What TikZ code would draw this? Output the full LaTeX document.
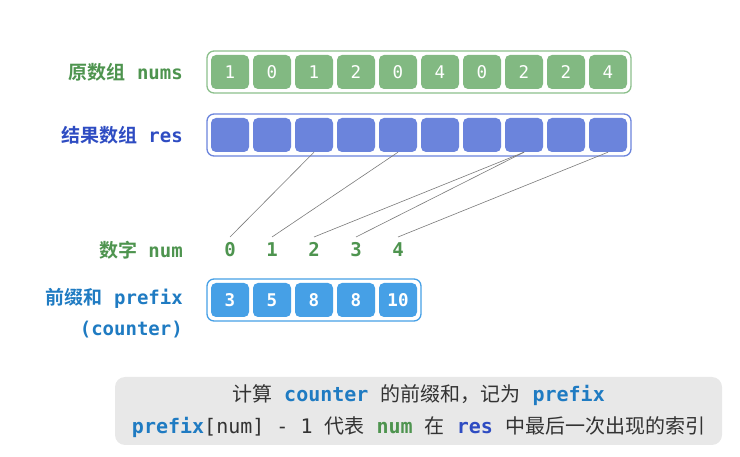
\documentclass[tikz,border=0pt]{standalone}
\usepackage{fontspec}
\setmainfont{DejaVu Sans}
\setmonofont{DejaVu Sans Mono}
\newfontfamily\cjk{Noto Sans CJK SC}[BoldFont={Noto Sans CJK SC Bold}]
\newcommand\zh[1]{{\cjk #1}}
\definecolor{numfill}{HTML}{82B982}
\definecolor{numline}{HTML}{8CC08C}
\definecolor{numtext}{HTML}{4E944F}
\definecolor{resfill}{HTML}{6B84DC}
\definecolor{restext}{HTML}{2E4CC2}
\definecolor{prefill}{HTML}{46A0E6}
\definecolor{pretext}{HTML}{1F7BC2}
\definecolor{notefill}{HTML}{E8E8E8}
\definecolor{notetext}{HTML}{333333}
\definecolor{linkgray}{HTML}{7A7A7A}
\begin{document}
\begin{tikzpicture}[x=1pt,y=-1pt,
    cell/.style={rounded corners=5pt,minimum width=38pt,minimum height=34pt,inner sep=0pt,text=white,
      text height=12.5pt,text depth=0pt,font=\ttfamily\fontsize{17.5}{17.5}\selectfont},
    numcell/.style={cell,fill=numfill},
    rescell/.style={cell,fill=resfill},
    precell/.style={cell,fill=prefill,font=\ttfamily\bfseries\fontsize{17.5}{17.5}\selectfont},
    rowbox/.style={rounded corners=7pt,line width=1.3pt,fill=white},
    rowlabel/.style={anchor=east,inner sep=0pt,font=\ttfamily\bfseries\fontsize{19}{31}\selectfont},
    digit/.style={text=numtext,text height=14pt,text depth=0pt,inner sep=0pt,outer sep=6pt,
      font=\ttfamily\bfseries\fontsize{19}{19}\selectfont},
    link/.style={draw=linkgray,line width=0.6pt}]
  \useasboundingbox (0,0) rectangle (740,457);
  % row boxes
  \draw[rowbox,draw=numline] (207,51) rectangle (631,93);
  \draw[rowbox,draw=resfill] (207,114) rectangle (631,156);
  \draw[rowbox,draw=prefill] (207,279) rectangle (421,321);
  % labels
  \node[rowlabel,text=numtext] (numslabel) at (183,72) {\zh{原数组} nums};
  \node[rowlabel,text=restext] (reslabel) at (183,135) {\zh{结果数组} res};
  \node[rowlabel,text=numtext] (numlabel) at (183,250) {\zh{数字} num};
  \node[rowlabel,text=pretext,align=right] (prelabel) at (183,313) {\zh{前缀和} prefix\\(counter)};
  % nums
  \draw
    (230,72) node[numcell] (n0){1}
    (272,72) node[numcell] (n1){0}
    (314,72) node[numcell] (n2){1}
    (356,72) node[numcell] (n3){2}
    (398,72) node[numcell] (n4){0}
    (440,72) node[numcell] (n5){4}
    (482,72) node[numcell] (n6){0}
    (524,72) node[numcell] (n7){2}
    (566,72) node[numcell] (n8){2}
    (608,72) node[numcell] (n9){4};
  % res
  \draw
    (230,135) node[rescell] (r0){}
    (272,135) node[rescell] (r1){}
    (314,135) node[rescell] (r2){}
    (356,135) node[rescell] (r3){}
    (398,135) node[rescell] (r4){}
    (440,135) node[rescell] (r5){}
    (482,135) node[rescell] (r6){}
    (524,135) node[rescell] (r7){}
    (566,135) node[rescell] (r8){}
    (608,135) node[rescell] (r9){};
  % num
  \draw
    (230,250) node[digit] (d0){0}
    (272,250) node[digit] (d1){1}
    (314,250) node[digit] (d2){2}
    (356,250) node[digit] (d3){3}
    (398,250) node[digit] (d4){4};
  % prefix
  \draw
    (230,300) node[precell] (p0){3}
    (272,300) node[precell] (p1){5}
    (314,300) node[precell] (p2){8}
    (356,300) node[precell] (p3){8}
    (398,300) node[precell] (p4){10};
  \begin{scope}[link]
    \draw (d0.north) -- (r2.south);
    \draw (d1.north) -- (r4.south);
    \draw (d2.north) -- (r7.south);
    \draw (d3.north) -- (r7.south);
    \draw (d4.north) -- (r9.south);
  \end{scope}
  % note
  \node[fill=notefill,rounded corners=10pt,minimum width=607pt,minimum height=68pt,align=center,
    text=notetext,font=\ttfamily\fontsize{20}{32}\selectfont] (note) at (418.5,411)
    {\zh{计算} {\bfseries\color{pretext}counter} \zh{的前缀和，记为} {\bfseries\color{pretext}prefix}\\
     {\bfseries\color{pretext}prefix}[num] - 1 \zh{代表} {\bfseries\color{numtext}num} \zh{在}
     {\bfseries\color{restext}res} \zh{中最后一次出现的索引}};
\end{tikzpicture}
\end{document}
